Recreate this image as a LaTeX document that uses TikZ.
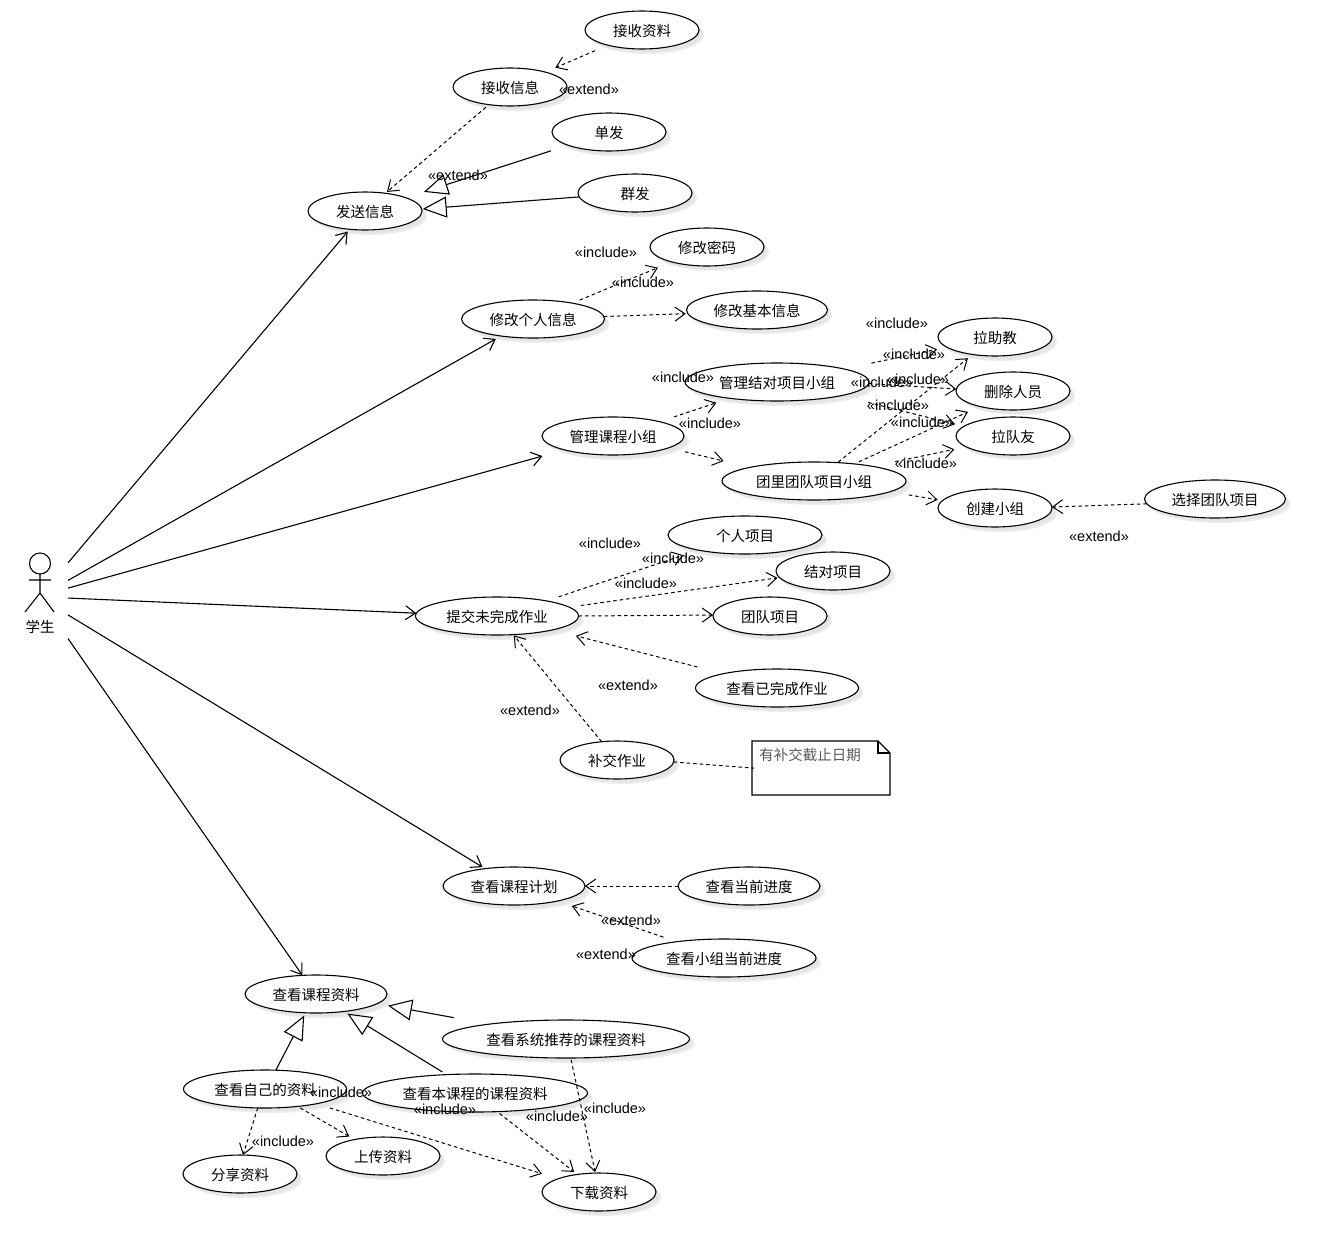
\documentclass[tikz,border=0pt]{standalone}
\usepackage{fontspec}
\setmainfont{Liberation Sans}
\newfontfamily\cjk{Noto Sans CJK SC}
\usetikzlibrary{arrows.meta, positioning, shapes.geometric, shadows}
\tikzset{
    usecase/.style={ellipse, draw, fill=white, line width=1.1pt, inner sep=0pt, outer sep=0pt, minimum width=114pt, minimum height=38pt,
        font=\cjk\fontsize{14.5}{16}\selectfont, text=black, text depth=0pt,
        general shadow={shadow xshift=5pt, shadow yshift=-5pt, fill=black!7, opacity=1},
        general shadow={shadow xshift=3.5pt, shadow yshift=-3.5pt, fill=black!10, opacity=1}},
    assoc/.style={-{Straight Barb[length=10pt,width=14pt]}, line width=1.1pt},
    incl/.style={-{Straight Barb[length=10pt,width=14pt]}, dash pattern=on 3.5pt off 3pt, line width=1pt},
    gen/.style={-{Triangle[open,length=24pt,width=21pt]}, line width=1.1pt},
    stereo/.style={font=\fontsize{14.5}{16}\selectfont, text=black, inner sep=0pt},
}
\begin{document}
\begin{tikzpicture}[x=1pt, y=-1pt, on grid]
    \useasboundingbox (0,0) rectangle (1330,1256);
    \node[minimum width=56pt, minimum height=80pt, inner sep=0pt, outer sep=0pt] (student) at (40,600) {};
    \node[below=27pt of student, font=\cjk\fontsize{14.5}{16}\selectfont, text=black] (studentname) {学生};

    \node[usecase, above right=389pt and 325pt of student] (sendinfo) {发送信息};
    \node[usecase, above right=124pt and 145pt of sendinfo] (receiveinfo) {接收信息};
    \node[usecase, above right=57pt and 132pt of receiveinfo] (receivefile) {接收资料};
    \node[usecase, below right=45pt and 99pt of receiveinfo] (single) {单发};
    \node[usecase, below right=61pt and 26pt of single] (mass) {群发};

    \node[usecase, minimum width=143pt, above right=281pt and 493pt of student] (editinfo) {修改个人信息};
    \node[usecase, above right=72pt and 174pt of editinfo] (editpwd) {修改密码};
    \node[usecase, minimum width=141pt, above right=9pt and 224pt of editinfo] (editbasic) {修改基本信息};

    \node[usecase, minimum width=142pt, above right=164pt and 573pt of student] (managecourse) {管理课程小组};
    \node[usecase, minimum width=184pt, above right=54pt and 164pt of managecourse] (managepair) {管理结对项目小组};
    \node[usecase, minimum width=184pt, below right=45pt and 201pt of managecourse] (manageteam) {团里团队项目小组};
    \node[usecase, above right=45pt and 218pt of managepair] (addta) {拉助教};
    \node[usecase, below right=9pt and 236pt of managepair] (removemember) {删除人员};
    \node[usecase, below=45pt of removemember] (addfriend) {拉队友};
    \node[usecase, below right=27pt and 181pt of manageteam] (creategroup) {创建小组};
    \node[usecase, minimum width=141pt, above right=9pt and 220pt of creategroup] (chooseteam) {选择团队项目};

    \node[usecase, minimum width=163pt, below right=16pt and 457pt of student] (submitwork) {提交未完成作业};
    \node[usecase, minimum width=154pt, above right=81pt and 248pt of submitwork] (personal) {个人项目};
    \node[usecase, above right=45pt and 336pt of submitwork] (pairwork) {结对项目};
    \node[usecase, right=273pt of submitwork] (teamwork) {团队项目};
    \node[usecase, minimum width=163pt, below right=72pt and 280pt of submitwork] (viewdone) {查看已完成作业};
    \node[usecase, below right=144pt and 120pt of submitwork] (resubmit) {补交作业};
    \node[minimum width=138pt, minimum height=54pt, inner sep=0pt, outer sep=0pt, below right=8pt and 204pt of resubmit] (duenote) {};
    \node[below right=-13pt and -11pt of duenote, font=\cjk\fontsize{14.5}{16}\selectfont, text=black!65, inner sep=0pt] (duetext) {有补交截止日期};

    \node[usecase, minimum width=142pt, below right=286pt and 474pt of student] (viewplan) {查看课程计划};
    \node[usecase, minimum width=142pt, right=235pt of viewplan] (viewprogress) {查看当前进度};
    \node[usecase, minimum width=184pt, below right=72pt and 210pt of viewplan] (viewgroup) {查看小组当前进度};

    \node[usecase, minimum width=142pt, below right=394pt and 276pt of student] (viewfiles) {查看课程资料};
    \node[usecase, minimum width=247pt, below right=45pt and 250pt of viewfiles] (viewrec) {查看系统推荐的课程资料};
    \node[usecase, minimum width=163pt, below left=95pt and 51pt of viewfiles] (viewmine) {查看自己的资料};
    \node[usecase, minimum width=225pt, below right=99pt and 159pt of viewfiles] (viewcourse) {查看本课程的课程资料};
    \node[usecase, below left=85pt and 25pt of viewmine] (sharefile) {分享资料};
    \node[usecase, below right=67pt and 118pt of viewmine] (uploadfile) {上传资料};
    \node[usecase, below right=99pt and 124pt of viewcourse] (downloadfile) {下载资料};

    \draw[line width=1.1pt] (40,563.5) circle (10.5pt);
    \draw[line width=1.1pt] (40,574) -- (40,593) (29,580) -- (51,580) (25,612) -- (40,593) -- (54,612);
    \draw[line width=1.1pt] (duenote.north west) -- ++(126,0) -- ++(12,12) -- (duenote.south east) -- (duenote.south west) -- cycle;
    \draw[line width=1.1pt] ([xshift=126pt]duenote.north west) -- ++(0,12) -- ++(12,0);

    \draw[assoc, shorten >=3pt] (student.53.6) -- (sendinfo.-130);
    \draw[assoc, shorten >=6pt] (student.35.5) -- (editinfo.-152);
    \draw[assoc, shorten >=23pt] (student.23.2) -- (managecourse.-164);
    \draw[assoc] (student.4.1) -- (submitwork.178);
    \draw[assoc, shorten >=3pt] (student.-28.2) -- (viewplan.149);
    \draw[assoc] (student.-54.3) -- (viewfiles.126);

    \draw[incl, shorten <=14pt, shorten >=11pt] (receivefile.204.5) -- (receiveinfo.23);
    \draw[incl, shorten <=4pt, shorten >=2pt] (receiveinfo.220) -- (sendinfo.41);
    \draw[gen, shorten <=18pt, shorten >=19pt] (single.198) -- (sendinfo.18);
    \draw[gen, shorten >=1pt] (mass.184) -- (sendinfo.2);

    \draw[incl, shorten <=8pt, shorten >=15pt] (editinfo.22) -- (editpwd.203);
    \draw[incl, shorten >=2pt] (editinfo.2.4) -- (editbasic.183);

    \draw[incl, shorten <=15pt, shorten >=14pt] (managecourse.17.6) -- (managepair.199);
    \draw[incl, shorten <=17pt, shorten >=27pt] (managecourse.-12.7) -- (manageteam.168);
    \draw[incl, shorten <=1pt, shorten >=6pt] (manageteam.38.4) -- (addta.218);
    \draw[incl, shorten <=5pt, shorten >=13pt] (manageteam.23.4) -- (removemember.205);
    \draw[incl, shorten <=23pt, shorten >=12pt] (manageteam.14.9) -- (addfriend.193.6);
    \draw[incl, shorten <=19pt, shorten >=5pt] (manageteam.-8.6) -- (creategroup.172);
    \draw[incl, shorten <=28pt, shorten >=10pt] (managepair.11.5) -- (addta.192.6);
    \draw[incl] (managepair.-1.9) -- (removemember.178);
    \draw[incl, shorten <=28pt, shorten >=9pt] (managepair.-12.5) -- (addfriend.169);
    \draw[incl] (chooseteam.184) -- (creategroup.1);

    \draw[incl, shorten <=13pt, shorten >=16pt] (submitwork.17.3) -- (personal.198);
    \draw[incl, shorten <=12pt, shorten >=2pt] (submitwork.7.7) -- (pairwork.187);
    \draw[incl] (submitwork.-0.4) -- (teamwork.179.6);
    \draw[incl, shorten <=27pt, shorten >=24pt] (viewdone.165.8) -- (submitwork.-14.4);
    \draw[incl, shorten >=1pt] (resubmit.130) -- (submitwork.-49.6);
    \draw[dash pattern=on 3.5pt off 3pt, line width=1pt, shorten >=-2pt] (resubmit.-2) -- (duenote.west);

    \draw[incl] (viewprogress.180.4) -- (viewplan.-0.4);
    \draw[incl, shorten <=14pt, shorten >=15pt] (viewgroup.161.3) -- (viewplan.-19);

    \draw[gen, shorten <=36pt, shorten >=11pt] (viewrec.169.4) -- (viewfiles.-9.6);
    \draw[gen, shorten <=5pt, shorten >=4pt] (viewcourse.147.5) -- (viewfiles.-32.8);
    \draw[gen, shorten >=3pt] (viewmine.60) -- (viewfiles.241.4);

    \draw[incl] (viewmine.249.8) -- (sharefile.81);
    \draw[incl, shorten <=3pt, shorten >=6pt] (viewmine.-28.5) -- (uploadfile.150.8);
    \draw[incl, shorten <=14pt, shorten >=17pt] (viewmine.-16.8) -- (downloadfile.162.8);
    \draw[incl, shorten <=3pt, shorten >=4pt] (viewcourse.-40) -- (downloadfile.141.3);
    \draw[incl, shorten <=2pt, shorten >=1pt] (viewrec.-76.6) -- (downloadfile.101);

    \node[stereo] (ext1) at (589,89) {«extend»};
    \node[stereo] (ext2) at (458,175) {«extend»};
    \node[stereo] (inc1) at (606,252) {«include»};
    \node[stereo] (inc2) at (643,282) {«include»};
    \node[stereo] (inc3) at (897,323) {«include»};
    \node[stereo] (inc4) at (914,354) {«include»};
    \node[stereo] (inc5) at (683,377) {«include»};
    \node[stereo] (inc6) at (882,382) {«include»};
    \node[stereo] (inc7) at (918,379) {«include»};
    \node[stereo] (inc8) at (898,405) {«include»};
    \node[stereo] (inc9) at (922,422) {«include»};
    \node[stereo] (inc10) at (710,423) {«include»};
    \node[stereo] (inc11) at (926,463) {«include»};
    \node[stereo] (ext3) at (1099,536) {«extend»};
    \node[stereo] (inc12) at (610,543) {«include»};
    \node[stereo] (inc13) at (673,558) {«include»};
    \node[stereo] (inc14) at (646,583) {«include»};
    \node[stereo] (ext4) at (628,685) {«extend»};
    \node[stereo] (ext5) at (530,710) {«extend»};
    \node[stereo] (ext6) at (631,920) {«extend»};
    \node[stereo] (ext7) at (606,954) {«extend»};
    \node[stereo] (inc15) at (341,1092) {«include»};
    \node[stereo] (inc16) at (445,1109) {«include»};
    \node[stereo] (inc17) at (283,1141) {«include»};
    \node[stereo] (inc18) at (557,1116) {«include»};
    \node[stereo] (inc19) at (615,1108) {«include»};
\end{tikzpicture}
\end{document}
